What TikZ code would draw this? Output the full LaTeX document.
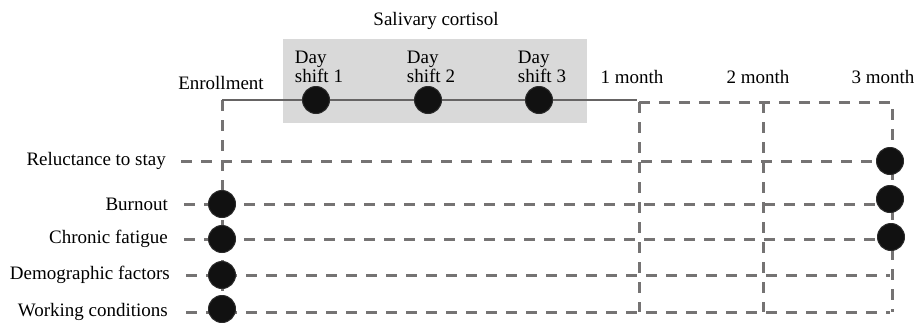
\documentclass[tikz,border=0pt]{standalone}
\usepackage{fontspec}
\setmainfont{Liberation Serif}
\begin{document}
\begin{tikzpicture}[x=1pt,y=-1pt,
  every node/.style={font=\fontsize{19}{19}\selectfont, inner sep=0pt},
  dot/.style={circle, minimum size=27pt, fill=dotc, draw=dotb, line width=1pt},
  dline/.style={draw=linec, line width=3pt, dash pattern=on 10.5pt off 9.5pt},
  sline/.style={draw=solidc, line width=2.6pt},
  lbl/.style={anchor=east},
  daylbl/.style={align=left, anchor=south}
]
\definecolor{dotc}{HTML}{111111}
\definecolor{dotb}{HTML}{2A2A2A}
\definecolor{linec}{HTML}{757373}
\definecolor{solidc}{HTML}{666464}
\definecolor{boxc}{HTML}{D9D9D9}
\useasboundingbox (0,0) rectangle (919,322);

% shaded box
\fill[boxc] (283,39) rectangle (587,123);
\node (sal) at (436,21) {Salivary cortisol};

% coordinates
\coordinate (e0) at (222,100);
\coordinate (eB) at (222,312);
\coordinate (m1t) at (639,102);
\coordinate (m1b) at (639,312);
\coordinate (m2t) at (763,102);
\coordinate (m2b) at (763,312);
\coordinate (m3t) at (892,102);
\coordinate (m3b) at (892,312);
\coordinate (send) at (637,100);

% row labels
\node[lbl] (r1) at (166,161) {Reluctance to stay};
\node[lbl] (r2) at (168,204) {Burnout};
\node[lbl] (r3) at (168,239) {Chronic fatigue};
\node[lbl] (r4) at (170,275) {Demographic factors};
\node[lbl] (r5) at (168,312) {Working conditions};

\coordinate (r1s) at (181,161); \coordinate (r1e) at (890,161);
\coordinate (r2s) at (184,204); \coordinate (r2e) at (890,204);
\coordinate (r3s) at (184,239); \coordinate (r3e) at (890,239);
\coordinate (r4s) at (186,275); \coordinate (r4e) at (890,275);
\coordinate (r5s) at (186,312); \coordinate (r5e) at (890,312);

% dashed lines
\path[dline] (e0) -- (eB);
\path[dline] (m1t) -- (m1b);
\path[dline] (m2t) -- (m2b);
\path[dline] (m1t) -- (m3t) -- (m3b);
\path[dline] (r1s) -- (r1e);
\path[dline] (r2s) -- (r2e);
\path[dline] (r3s) -- (r3e);
\path[dline] (r4s) -- (r4e);
\path[dline] (r5s) -- (r5e);

% solid timeline
\path[sline] (e0) -- (send);

% header labels
\node (enr) at (221,83) {Enrollment};
\node (mo1) at (632,77) {1 month};
\node (mo2) at (758,77) {2 month};
\node (mo3) at (883,77) {3 month};

% day shift dots and labels
\node[dot] (d1) at (316,100) {};
\node[dot] (d2) at (428,100) {};
\node[dot] (d3) at (539,100) {};
\node[daylbl] (t1) at (319,83) {Day\\shift 1};
\node[daylbl] (t2) at (431,83) {Day\\shift 2};
\node[daylbl] (t3) at (542,83) {Day\\shift 3};

% left dots
\node[dot] (l2) at (222,204) {};
\node[dot] (l3) at (222,239) {};
\node[dot] (l4) at (222,275) {};
\node[dot] (l5) at (222,309) {};

% right dots
\node[dot] (q1) at (890,161) {};
\node[dot] (q2) at (890,199) {};
\node[dot] (q3) at (891,237) {};
\end{tikzpicture}
\end{document}
